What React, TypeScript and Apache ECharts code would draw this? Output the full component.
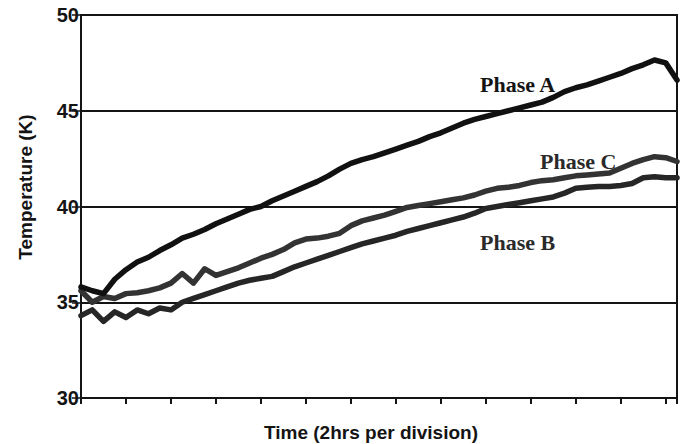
import React, { useEffect, useRef } from "react";
import * as echarts from "echarts";

// time in divisions (2 hrs per division)
const TIME_DIV = [
  0, 0.25, 0.5, 0.75, 1, 1.25, 1.5, 1.75, 2, 2.25, 2.5, 2.75, 3, 3.25, 3.5, 3.75,
  4, 4.25, 4.5, 4.75, 5, 5.25, 5.5, 5.75, 6, 6.25, 6.5, 6.75, 7, 7.25, 7.5, 7.75,
  8, 8.25, 8.5, 8.75, 9, 9.25, 9.5, 9.75, 10, 10.25, 10.5, 10.75, 11, 11.25, 11.5,
  11.75, 12, 12.25, 12.5, 12.75, 13, 13.25,
];

const PHASE_A = [
  35.8, 35.6, 35.45, 36.2, 36.7, 37.1, 37.35, 37.7, 38.0, 38.35, 38.55, 38.8, 39.1, 39.35, 39.6, 39.85,
  40.0, 40.3, 40.55, 40.8, 41.05, 41.3, 41.6, 41.95, 42.25, 42.45, 42.6, 42.8, 43.0, 43.2, 43.4, 43.65,
  43.85, 44.1, 44.35, 44.55, 44.7, 44.85, 45.0, 45.15, 45.3, 45.45, 45.7, 46.0, 46.2, 46.35, 46.55,
  46.75, 46.95, 47.2, 47.4, 47.65, 47.5, 46.6,
];

const PHASE_C = [
  35.6, 35.0, 35.3, 35.2, 35.45, 35.5, 35.6, 35.75, 36.0, 36.5, 36.0, 36.75, 36.4, 36.6, 36.8, 37.05,
  37.3, 37.5, 37.75, 38.1, 38.3, 38.35, 38.45, 38.6, 39.0, 39.25, 39.4, 39.55, 39.75, 39.95, 40.05, 40.15,
  40.25, 40.35, 40.45, 40.6, 40.8, 40.95, 41.0, 41.1, 41.25, 41.35, 41.4, 41.5, 41.6, 41.65, 41.7,
  41.75, 42.0, 42.25, 42.45, 42.6, 42.55, 42.35,
];

const PHASE_B = [
  34.3, 34.6, 34.0, 34.5, 34.2, 34.6, 34.4, 34.7, 34.6, 35.0, 35.2, 35.4, 35.6, 35.8, 36.0, 36.15,
  36.25, 36.35, 36.6, 36.85, 37.05, 37.25, 37.45, 37.65, 37.85, 38.05, 38.2, 38.35, 38.5, 38.7, 38.85, 39.0,
  39.15, 39.3, 39.45, 39.65, 39.9, 40.0, 40.1, 40.2, 40.3, 40.4, 40.5, 40.7, 40.95, 41.0, 41.05,
  41.05, 41.1, 41.2, 41.5, 41.55, 41.5, 41.5,
];

const Y_MIN = 30;
const Y_MAX = 50;
const Y_STEP = 5;
const X_MIN = 0;
const X_MAX = 13.25;
const X_STEP = 1;

const X_TITLE = "Time (2hrs per division)";
const Y_TITLE = "Temperature (K)";

const pairs = (ys: number[]) => TIME_DIV.map((t, i) => [t, ys[i]]);

export default function App() {
  const ref = useRef<HTMLDivElement>(null);

  useEffect(() => {
    if (!ref.current) return;
    const chart = echarts.init(ref.current, undefined, { renderer: "svg" });
    const ink = "#141414";
    const lineSeries = (name: string, ys: number[], color: string) => ({
      name,
      type: "line",
      data: pairs(ys),
      showSymbol: false,
      symbol: "none",
      lineStyle: { color, width: 5.5, join: "round", cap: "round" },
      z: 3,
    });
    chart.setOption({
      animation: false,
      backgroundColor: "#ffffff",
      grid: {
        left: 81,
        right: 6,
        top: 15,
        bottom: 46,
        show: true,
        borderColor: ink,
        borderWidth: 2,
      },
      xAxis: {
        type: "value",
        min: X_MIN,
        max: X_MAX,
        interval: X_STEP,
        axisLine: { show: true, onZero: false, lineStyle: { color: ink, width: 2 } },
        axisTick: { show: true, length: 6, lineStyle: { color: ink, width: 2 } },
        axisLabel: { show: false },
        splitLine: { show: false },
      },
      yAxis: {
        type: "value",
        min: Y_MIN,
        max: Y_MAX,
        interval: Y_STEP,
        axisLine: { show: true, lineStyle: { color: ink, width: 2 } },
        axisTick: { show: true, length: 9, lineStyle: { color: ink, width: 1.5 } },
        axisLabel: {
          color: ink,
          fontFamily: "Liberation Sans, Arial, sans-serif",
          fontWeight: "bold",
          fontSize: 20,
          margin: 2,
        },
        splitLine: { show: true, lineStyle: { color: ink, width: 2 } },
      },
      graphic: [
        {
          type: "text",
          x: 371,
          y: 432,
          style: {
            text: X_TITLE,
            fill: ink,
            font: "bold 19px 'Liberation Sans', Arial, sans-serif",
            align: "center",
            verticalAlign: "middle",
          },
        },
        {
          type: "text",
          x: 25,
          y: 187,
          rotation: Math.PI / 2,
          style: {
            text: Y_TITLE,
            fill: ink,
            font: "bold 19px 'Liberation Sans', Arial, sans-serif",
            align: "center",
            verticalAlign: "middle",
          },
        },
        {
          type: "text",
          x: 480,
          y: 84,
          style: {
            text: "Phase A",
            fill: ink,
            font: "bold 22px 'Liberation Serif', 'Times New Roman', serif",
            align: "left",
            verticalAlign: "middle",
          },
        },
        {
          type: "text",
          x: 540,
          y: 161,
          style: {
            text: "Phase C",
            fill: "#2a2a2a",
            font: "bold 22px 'Liberation Serif', 'Times New Roman', serif",
            align: "left",
            verticalAlign: "middle",
          },
        },
        {
          type: "text",
          x: 480,
          y: 242,
          style: {
            text: "Phase B",
            fill: "#2a2a2a",
            font: "bold 22px 'Liberation Serif', 'Times New Roman', serif",
            align: "left",
            verticalAlign: "middle",
          },
        },
      ],
      series: [
        lineSeries("Phase C", PHASE_C, "#333333"),
        lineSeries("Phase B", PHASE_B, "#262626"),
        lineSeries("Phase A", PHASE_A, "#111111"),
      ],
    });
    return () => chart.dispose();
  }, []);

  return <div ref={ref} style={{ width: 683, height: 444, position: "absolute", left: 0, top: 0 }} />;
}
